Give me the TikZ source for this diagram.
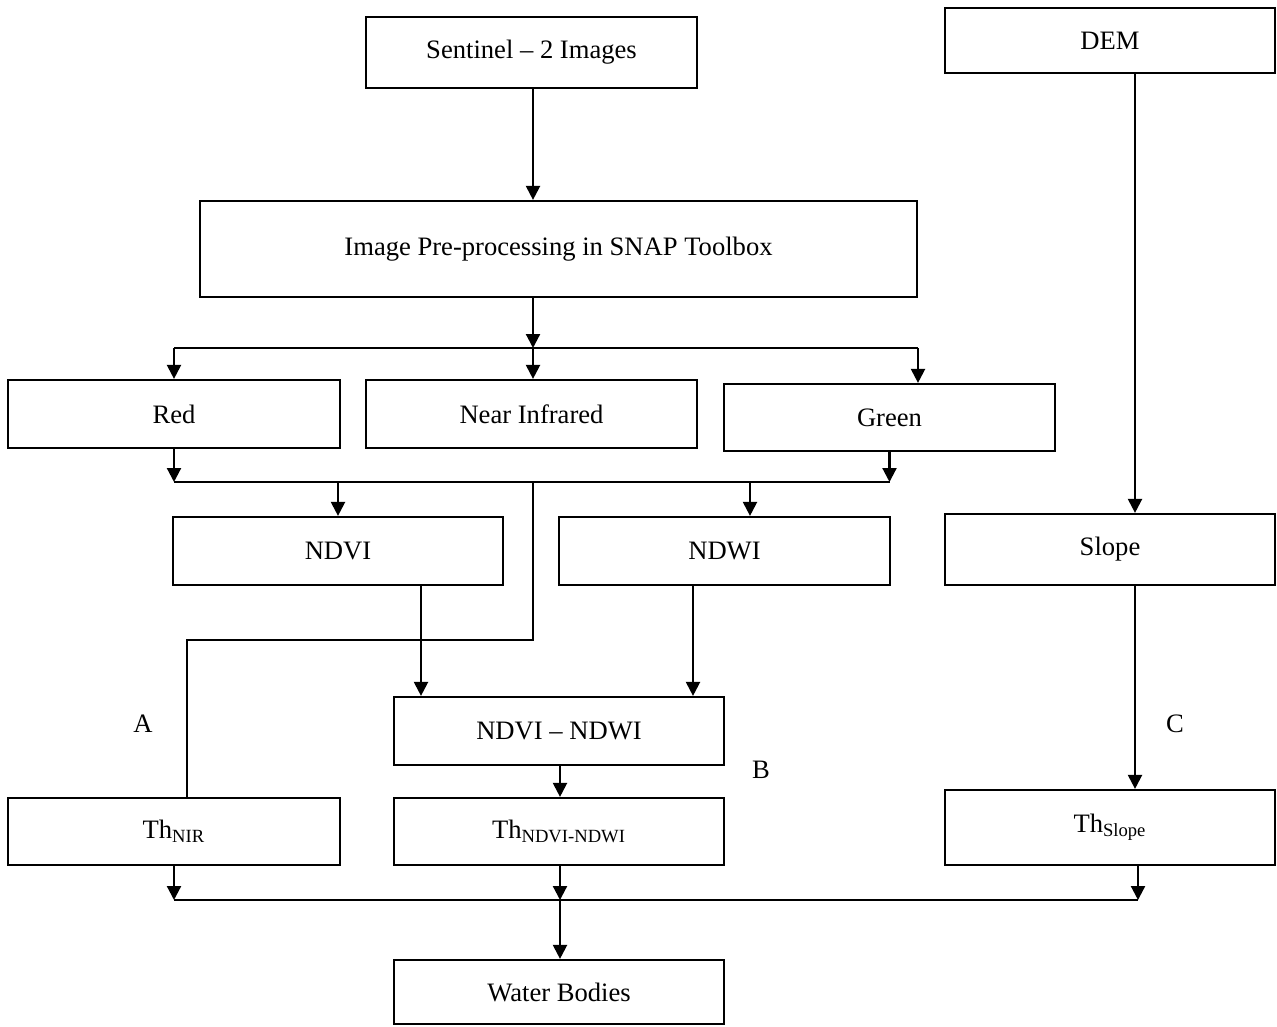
\documentclass[tikz,border=0pt]{standalone}
\usepackage{fontspec}
\setmainfont{Liberation Serif}
\usetikzlibrary{arrows.meta}

\begin{document}
\begin{tikzpicture}[x=0.5pt,y=-0.5pt,line width=1.1pt,
  box/.style={draw,rectangle,inner sep=0pt,font=\fontsize{13.3}{16}\selectfont},
  arr/.style={-{Triangle[length=7pt,width=7pt]}},
  lbl/.style={font=\fontsize{13.3}{16}\selectfont}]
\useasboundingbox (0,0) rectangle (1277,1026);

\node[box,minimum width=165.5pt,minimum height=35.5pt] (sent) at (531.5,52.5) {Sentinel -- 2 Images};
\node[box,minimum width=165pt,minimum height=32.5pt] (dem) at (1110,40.5) {DEM};
\node[box,minimum width=358.5pt,minimum height=48pt] (pre) at (558.5,249) {Image Pre-processing in SNAP Toolbox};

\node[box,minimum width=166pt,minimum height=34pt] (red) at (174,414) {Red};
\node[box,minimum width=165.5pt,minimum height=34pt] (nir) at (531.5,414) {Near Infrared};
\node[box,minimum width=165.5pt,minimum height=33.5pt] (green) at (889.5,417.5) {Green};

\node[box,minimum width=165pt,minimum height=34pt] (ndvi) at (338,551) {NDVI};
\node[box,minimum width=165.5pt,minimum height=34pt] (ndwi) at (724.5,551) {NDWI};
\node[box,minimum width=165pt,minimum height=35.5pt] (slope) at (1110,549.5) {Slope};

\node[box,minimum width=165pt,minimum height=34pt] (diff) at (559,731) {NDVI -- NDWI};

\node[box,minimum width=166pt,minimum height=33.5pt] (thnir) at (174,831.5) {Th\textsubscript{NIR}};
\node[box,minimum width=165pt,minimum height=33.5pt] (thnd) at (559,831.5) {Th\textsubscript{NDVI-NDWI}};
\node[box,minimum width=165pt,minimum height=37.5pt] (thsl) at (1110,827.5) {Th\textsubscript{Slope}};

\node[box,minimum width=165pt,minimum height=32pt] (water) at (559,992) {Water Bodies};

\coordinate (split) at (533,348);
\coordinate (join) at (533,482);
\coordinate (bend) at (187,640);
\coordinate (merge) at (560,900);

\draw[arr] (sent.south -| split) -- (pre.north -| split);
\draw[arr] (pre.south -| split) -- (split);
\draw (split -| red) -- (918,348);
\draw[arr] (split -| red) -- (red.north);
\draw[arr] (split) -- (nir.north -| split);
\draw[arr] (918,348) -- (green.north -| 918,0);

\draw[arr] (red.south) -- (join -| red);
\draw[arr] (green.south) -- (join -| green);
\draw (join -| red) -- (join -| green);
\draw[arr] (join -| ndvi) -- (ndvi.north);
\draw[arr] (750,482) -- (ndwi.north -| 750,0);

\draw (join) -- (bend -| join) -- (bend) -- (thnir.north -| bend);
\node[lbl] (la) at (143,724) {A};

\draw[arr] (ndvi.south -| 421,0) -- (diff.north -| 421,0);
\draw[arr] (ndwi.south -| 693,0) -- (diff.north -| 693,0);
\draw[arr] (diff.south -| merge) -- (thnd.north -| merge);
\node[lbl] (lb) at (761,770) {B};

\draw[arr] (dem.south -| 1135,0) -- (slope.north -| 1135,0);
\draw[arr] (slope.south -| 1135,0) -- (thsl.north -| 1135,0);
\node[lbl] (lc) at (1175,724) {C};

\draw[arr] (thnir.south) -- (merge -| thnir);
\draw[arr] (thnd.south -| merge) -- (merge);
\draw[arr] (thsl.south -| 1138,0) -- (merge -| 1138,0);
\draw (merge -| thnir) -- (merge -| 1138,0);
\draw[arr] (merge) -- (water.north -| merge);
\end{tikzpicture}
\end{document}
